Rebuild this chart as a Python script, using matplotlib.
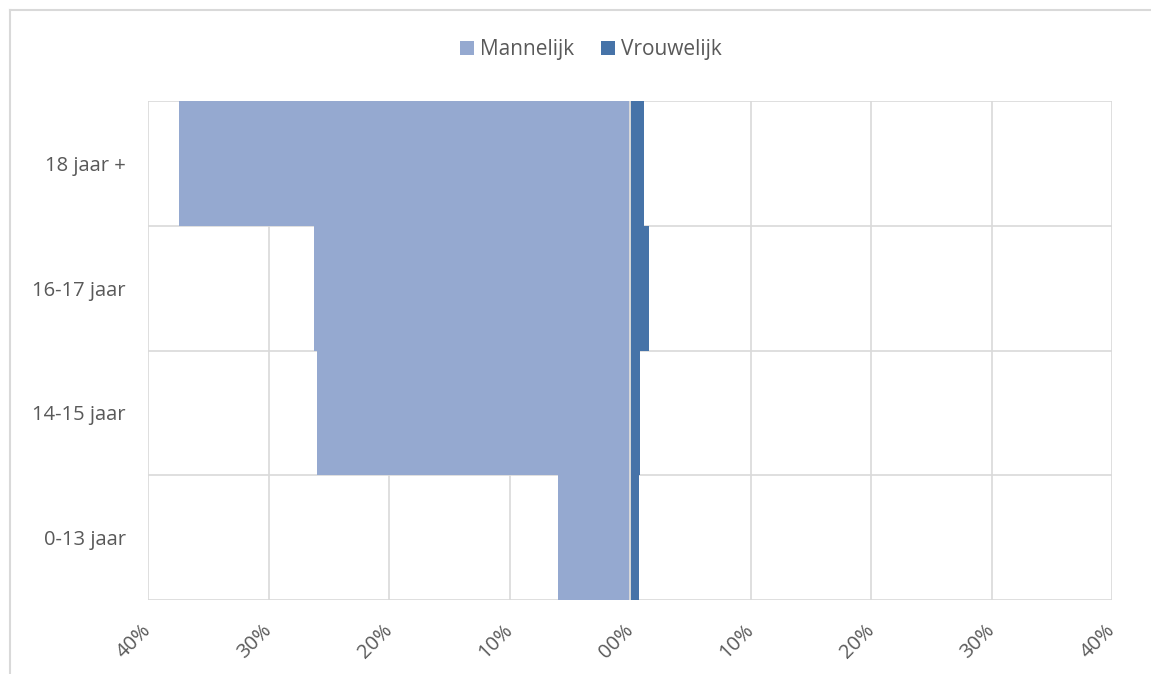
import matplotlib
matplotlib.use("Agg")
import matplotlib.pyplot as plt
from matplotlib.lines import Line2D
from matplotlib.patches import Patch

categories = ["0-13 jaar", "14-15 jaar", "16-17 jaar", "18 jaar +"]
mannelijk = [6.0, 26.0, 26.2, 37.4]      # percent (drawn to the left)
vrouwelijk = [0.75, 0.8, 1.6, 1.2]       # percent (drawn to the right)
tick_values = [-40, -30, -20, -10, 0, 10, 20, 30, 40]
tick_labels = ["40%", "30%", "20%", "10%", "00%", "10%", "20%", "30%", "40%"]

c_man = "#95A9D0"
c_vrouw = "#4673A8"
grid_c = "#D9D9D9"
text_c = "#595959"
font = ["Open Sans", "DejaVu Sans"]
plt.rcParams["font.family"] = font

W, H = 1151, 674
fig = plt.figure(figsize=(W / 100, H / 100), dpi=100)
ax = fig.add_axes([148 / W, (H - 600) / H, (1112 - 148) / W, (600 - 101) / H])

y = list(range(len(categories)))
ax.barh(y, [-v for v in mannelijk], height=1.0, color=c_man, zorder=2, label="Mannelijk")
ax.barh(y, vrouwelijk, height=1.0, color=c_vrouw, zorder=2, label="Vrouwelijk")

ax.set_xlim(-40, 40)
ax.set_ylim(-0.5, len(categories) - 0.5)
ax.set_xticks(tick_values)
ax.set_xticklabels(tick_labels, rotation=45, ha="right", va="center",
                   rotation_mode="anchor", color=text_c, fontsize=14.5)
ax.set_yticks(y)
ax.set_yticklabels(categories, color=text_c, fontsize=14.5)
ax.tick_params(axis="both", length=0)
ax.tick_params(axis="x", pad=20)
ax.tick_params(axis="y", pad=16)

for xv in tick_values:
    ax.axvline(xv, color=grid_c, lw=1.2, zorder=1)
for yb in [-0.5, 0.5, 1.5, 2.5, 3.5]:
    ax.axhline(yb, color=grid_c, lw=1.2, zorder=1)
ax.axvline(0, color=grid_c, lw=1.4, zorder=3)
for s in ax.spines.values():
    s.set_visible(False)

handles = [Patch(facecolor=c_man, label="Mannelijk"), Patch(facecolor=c_vrouw, label="Vrouwelijk")]
fig.legend(handles=handles, loc="center", bbox_to_anchor=(591 / W, 1 - 50 / H), ncol=2,
           frameon=False, fontsize=15, labelcolor=text_c, handlelength=0.65, handleheight=0.65,
           handletextpad=0.3, columnspacing=1.3)

# chart frame (top and left edges visible)
fig.add_artist(Line2D([10 / W, 1.0], [1 - 10 / H, 1 - 10 / H], color=grid_c, lw=1.5))
fig.add_artist(Line2D([10 / W, 10 / W], [0, 1 - 10 / H], color=grid_c, lw=1.5))

fig.savefig("out.png", dpi=100)
